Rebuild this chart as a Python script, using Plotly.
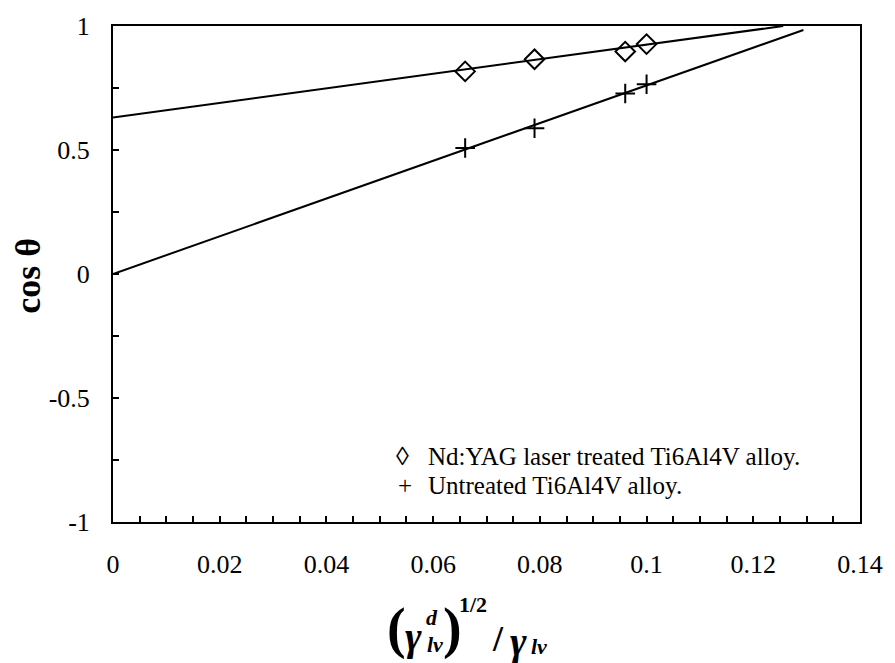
import plotly.graph_objects as go

# ---- data ----
x_treated = [0.066, 0.079, 0.096, 0.100]
y_treated = [0.817, 0.866, 0.897, 0.927]
x_untreated = [0.066, 0.079, 0.096, 0.100]
y_untreated = [0.508, 0.588, 0.728, 0.765]
fit_treated_x = [0.0, 0.1256]
fit_treated_y = [0.631, 1.0]
fit_untreated_x = [0.0, 0.1294]
fit_untreated_y = [0.0, 0.984]
legend_labels = ["Nd:YAG laser treated Ti6Al4V alloy.", "Untreated Ti6Al4V alloy."]
x_tickvals = [0, 0.02, 0.04, 0.06, 0.08, 0.1, 0.12, 0.14]
x_ticktext = ["0", "0.02", "0.04", "0.06", "0.08", "0.1", "0.12", "0.14"]
y_tickvals = [-1, -0.5, 0, 0.5, 1]
y_ticktext = ["-1", "-0.5", "0", "0.5", "1"]

W, H = 895, 663
L, R, T, B = 113, 32, 19, 141
PW, PH = W - L - R, H - T - B
SERIF = "Times New Roman, Liberation Serif, Tinos, serif"


def px(xp):
    return (xp - L) / PW


def py(yp):
    return (H - B - yp) / PH


fig = go.Figure()
fig.add_trace(go.Scatter(x=fit_treated_x, y=fit_treated_y, mode="lines",
                         line=dict(color="black", width=2), showlegend=False))
fig.add_trace(go.Scatter(x=fit_untreated_x, y=fit_untreated_y, mode="lines",
                         line=dict(color="black", width=2), showlegend=False))
fig.add_trace(go.Scatter(x=x_treated, y=y_treated, mode="markers", name=legend_labels[0],
                         marker=dict(symbol="diamond-open", size=15, color="black",
                                     line=dict(color="black", width=2)),
                         showlegend=False))
fig.add_trace(go.Scatter(x=x_untreated, y=y_untreated, mode="markers", name=legend_labels[1],
                         marker=dict(symbol="cross-thin-open", size=14, color="black",
                                     line=dict(color="black", width=2)),
                         showlegend=False))

axis_common = dict(showgrid=False, zeroline=False, showline=True, linecolor="black",
                   linewidth=2, mirror=True, ticks="inside", ticklen=6, tickwidth=2,
                   tickcolor="black", tickfont=dict(family=SERIF, size=26, color="black"))

fig.update_xaxes(range=[0, 0.14], tickvals=x_tickvals, ticktext=x_ticktext,
                 minor=dict(dtick=0.005, ticks="inside", ticklen=6, tickwidth=2,
                            tickcolor="black", showgrid=False),
                 ticklabelstandoff=18, **axis_common)
fig.update_yaxes(range=[-1, 1], tickvals=y_tickvals, ticktext=y_ticktext,
                 minor=dict(dtick=0.25, ticks="inside", ticklen=6, tickwidth=2,
                            tickcolor="black", showgrid=False),
                 ticklabelstandoff=16, **axis_common)

ann = []


def add(text, xpx, ypx, size, xanchor="center", yanchor="middle", angle=0):
    ann.append(dict(text=text, x=px(xpx), y=py(ypx), xref="paper", yref="paper",
                    showarrow=False, xanchor=xanchor, yanchor=yanchor, textangle=angle,
                    font=dict(family=SERIF, size=size, color="black")))


# legend drawn as text rows
add("\u25CA", 404, 456, 26)
add(legend_labels[0], 427, 456, 25, xanchor="left")
add("+", 406, 485, 25)
add(legend_labels[1], 427, 485, 25, xanchor="left")

# y axis title
add("<b>cos \u03b8</b>", 28, 272, 36, angle=-90)

# x axis title: (gamma_lv^d)^(1/2) / gamma_lv
add("<b>(</b>", 398, 630, 56)
add("<b><i>\u03b3</i></b>", 415, 638, 40)
add("<b><i>d</i></b>", 433, 619, 22)
add("<b><i>lv</i></b>", 436, 646, 22)
add("<b>)</b>", 454, 630, 56)
add("<b>1/2</b>", 474, 606, 22)
add("<b>/</b>", 500, 641, 36)
add("<b><i>\u03b3</i></b>", 520, 643, 40)
add("<b><i>lv</i></b>", 541, 648, 22)

fig.update_layout(width=W, height=H, margin=dict(l=L, r=R, t=T, b=B),
                  plot_bgcolor="white", paper_bgcolor="white", showlegend=False,
                  annotations=ann)

fig.write_html("out.html", config={"displayModeBar": False},
               post_script="document.body.style.margin='0';document.body.style.overflow='hidden';")
